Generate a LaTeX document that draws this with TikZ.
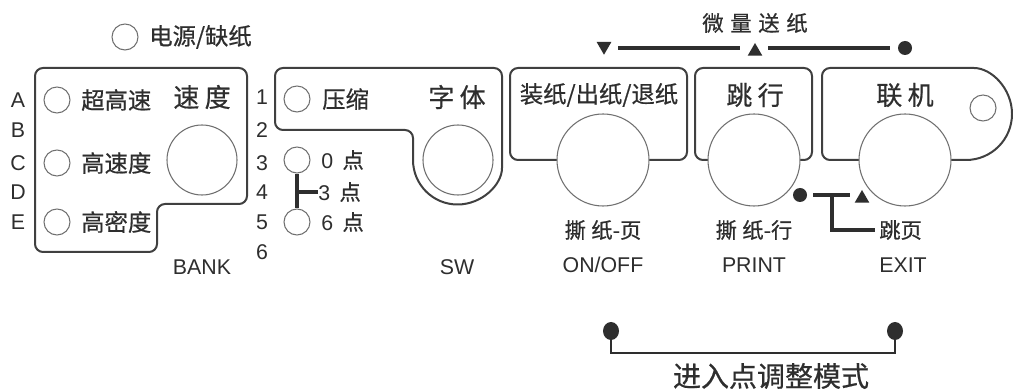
\documentclass[tikz,border=0pt]{standalone}
\usepackage{fontspec}
\setmainfont{Liberation Sans}
\newfontfamily\cjk[FakeBold=0.6]{Noto Sans CJK SC}
\usetikzlibrary{shapes.geometric}
\definecolor{ink}{HTML}{2E2E2E}
\definecolor{edge}{HTML}{404040}
\definecolor{ring}{HTML}{707070}
\begin{document}
\begin{tikzpicture}[x=0.75pt,y=-0.75pt,
 panel/.style={draw=edge,line width=1.5pt,rounded corners=6pt},
 led/.style={circle,draw=ring,line width=0.8pt,fill=white,minimum size=19.5pt,inner sep=0},
 bigbtn/.style={circle,draw=ring,line width=0.8pt,fill=white,minimum size=52.5pt,inner sep=0},
 keybtn/.style={circle,draw=ring,line width=0.8pt,fill=white,minimum size=69pt,inner sep=0},
 cn/.style={font=\cjk\fontsize{17.5pt}{20pt}\selectfont,text=ink,inner sep=0},
 cntitle/.style={font=\cjk\fontsize{19.5pt}{22pt}\selectfont,text=ink,inner sep=0},
 cnsmall/.style={font=\cjk\fontsize{16pt}{19pt}\selectfont,text=ink,inner sep=0},
 cnbig/.style={font=\cjk\fontsize{21pt}{24pt}\selectfont,text=ink,inner sep=0},
 lat/.style={font=\fontsize{16pt}{19pt}\selectfont,text=ink,inner sep=0},
 conn/.style={draw=ink,line width=2.4pt},
 thinconn/.style={draw=ink,line width=1.5pt},
 dotmark/.style={circle,fill=ink,minimum size=10.5pt,inner sep=0},
 ovalmark/.style={ellipse,fill=ink,minimum width=12pt,minimum height=13.5pt,inner sep=0},
 tri/.style={regular polygon,regular polygon sides=3,fill=ink,minimum size=12.75pt,inner sep=0},
]
\useasboundingbox[fill=white] (0,0) rectangle (1013,391);

% power LED
\node[led] (pwr) at (125,37) {};
\node[cn,anchor=west] (pwrt) at (149,37) {电源/缺纸};

% ---------- speed panel
\draw[panel] (35,68) -- (247,68) -- (247,204) -- (157,204) -- (157,252) -- (35,252) -- cycle;
\node[led] (l1) at (57,100) {};
\node[led] (l2) at (57,163) {};
\node[led] (l3) at (57,222) {};
\node[cn,anchor=west] (t1) at (81,100) {超高速};
\node[cn,anchor=west] (t2) at (81,163) {高速度};
\node[cn,anchor=west] (t3) at (81,222) {高密度};
\node[cntitle] (sdt) at (202,97) {速\hspace{4pt}度};
\node[bigbtn] (sdb) at (202,160) {};
\node[lat] (bank) at (202,267) {BANK};
\foreach \L/\y in {A/100,B/130,C/163,D/192,E/222}
  \node[lat] (let\L) at (18,\y) {\L};
\foreach \n/\y in {1/97,2/130,3/163,4/192,5/222,6/252}
  \node[lat] (num\n) at (262,\y) {\n};

% ---------- font panel
\draw[panel] (413,160) -- (413,130) -- (275,130) -- (275,68) -- (502,68) -- (502,160)
  [sharp corners] arc[start angle=0,end angle=180,radius=44.5];
\node[led] (cmp) at (297,99) {};
\node[cn,anchor=west] (cmpt) at (322,99) {压缩};
\node[cntitle] (fnt) at (457,97) {字\hspace{4pt}体};
\node[bigbtn] (fnb) at (458,160) {};
\node[led] (p0) at (297,160) {};
\node[led] (p6) at (297,222) {};
\node[cnsmall,anchor=west] (p0t) at (321,160) {\fontspec{Liberation Sans}0\hspace{7pt}\cjk 点};
\node[cnsmall,anchor=west] (p3t) at (318,192) {\fontspec{Liberation Sans}3\hspace{7pt}\cjk 点};
\node[cnsmall,anchor=west] (p6t) at (321,222) {\fontspec{Liberation Sans}6\hspace{7pt}\cjk 点};
\coordinate (p3) at (297,192);
\draw[conn] (p0.south) -- (p6.north);
\draw[conn] (p3) -- (p3t.west);
\node[lat] (sw) at (457,267) {SW};

% ---------- load key
\draw[panel] (510,68) rectangle (687,160);
\node[cn] (ldt) at (599,95) {装纸/出纸/退纸};
\node[keybtn] (ldb) at (603,160) {};
\node[cnsmall] (ldc) at (603,230) {撕\hspace{4pt}纸-页};
\node[lat] (onoff) at (603,265) {ON/OFF};

% ---------- line feed key
\draw[panel] (695,68) rectangle (812,160);
\node[cntitle] (lft) at (755,95) {跳\hspace{4pt}行};
\node[keybtn] (lfb) at (754,160) {};
\node[cnsmall] (lfc) at (754,230) {撕\hspace{4pt}纸-行};
\node[lat] (print) at (754,265) {PRINT};

% ---------- online key
\draw[panel] (966,160) -- (822,160) -- (822,68) -- (966,68)
  [sharp corners] arc[start angle=-90,end angle=90,radius=46];
\node[led] (onl) at (983,108) {};
\node[cntitle] (olt) at (905,95) {联\hspace{4pt}机};
\node[keybtn] (olb) at (905,160) {};
\node[lat] (exit) at (903,265) {EXIT};

% ---------- micro feed
\node[cnsmall] (mf) at (755,23) {微\hspace{5pt}量\hspace{5pt}送\hspace{5pt}纸};
\node[tri,rotate=180] (mdn) at (604,46.25) {};
\node[tri] (mup) at (755,51.5) {};
\node[dotmark] (mdot) at (905,48) {};
\coordinate (a1) at (618,48);
\coordinate (a2) at (740,48);
\coordinate (a3) at (768,48);
\coordinate (a4) at (890,48);
\draw[conn] (a1) -- (a2);
\draw[conn] (a3) -- (a4);

% ---------- form feed
\node[dotmark] (fdot) at (800,195) {};
\node[tri] (fup) at (862,198.5) {};
\coordinate (j1) at (813,195);
\coordinate (j2) at (850,195);
\coordinate (jm) at (832,195);
\draw[conn] (j1) -- (j2);
\node[cnsmall,anchor=west] (tyt) at (879,230) {跳页};
\draw[conn,shorten >=3pt] (jm) |- (tyt.west);

% ---------- dot adjust mode
\node[ovalmark] (bl) at (611,331) {};
\node[ovalmark] (br) at (895,331) {};
\coordinate (bk) at (753,353);
\draw[thinconn] (bl.south) -- (bl.south |- bk) -- (br.south |- bk) -- (br.south);
\node[cnbig] (mode) at (771,376) {进入点调整模式};
\end{tikzpicture}
\end{document}
